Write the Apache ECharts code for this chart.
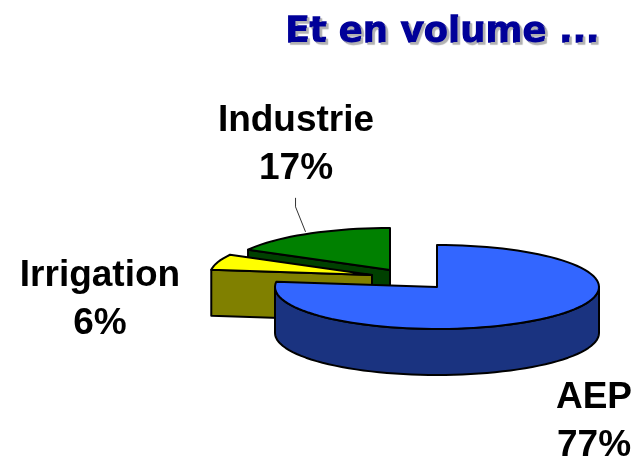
<!DOCTYPE html>
<html>
<head>
<meta charset="utf-8">
<style>
  html, body { margin: 0; padding: 0; background: #fff; }
  #chart { width: 638px; height: 460px; }
</style>
<script src="https://cdn.jsdelivr.net/npm/echarts@6/dist/echarts.min.js"></script>
</head>
<body>
<div id="chart"></div>
<script>
  // painted back to front, angles run backwards from 12 o'clock
  var categories = ['Industrie', 'Irrigation', 'AEP'];
  var shares = [17, 6, 77];

  var titleText = 'Et en volume ...';

  var pie = { rx: 162, ry: 42, depth: 46 };
  var sliceStyle = {
    Industrie: { cx: 390, cy: 270, top: '#008000', side: '#004000' },
    Irrigation: { cx: 372, cy: 275, top: '#ffff00', side: '#808000' },
    AEP: { cx: 437, cy: 287, top: '#3366ff', side: '#1a3380' }
  };
  var labelPos = {
    Industrie: { x: 296, y: 145 },
    Irrigation: { x: 100, y: 300 },
    AEP: { x: 594, y: 422 }
  };
  var total = shares.reduce(function (a, b) { return a + b; }, 0);

  function pt(s, deg, drop) {
    var r = deg * Math.PI / 180;
    return [s.cx + pie.rx * Math.sin(r), s.cy - pie.ry * Math.cos(r) + (drop || 0)];
  }

  function arc(s, from, to, drop) {
    var pts = [];
    var n = Math.max(2, Math.ceil(Math.abs(to - from) / 3));
    for (var i = 0; i <= n; i++) {
      pts.push(pt(s, from + (to - from) * i / n, drop));
    }
    return pts;
  }

  function poly(points, fill) {
    return {
      type: 'polygon',
      shape: { points: points },
      style: { fill: fill, stroke: '#000', lineWidth: 2, lineJoin: 'round' }
    };
  }

  function renderSlice(params, api) {
    var idx = params.dataIndex;
    var name = categories[idx];
    var s = sliceStyle[name];
    var before = 0;
    for (var i = 0; i < idx; i++) before += api.value(0, i);
    var end = 360 - before / total * 360;
    var start = end - api.value(0) / total * 360;
    var apex = [s.cx, s.cy];
    var apexLow = [s.cx, s.cy + pie.depth];
    var kids = [];

    // cut face on the start side, only when it looks towards the viewer
    if (Math.sin(start * Math.PI / 180) < 0) {
      kids.push(poly([apex, pt(s, start), pt(s, start, pie.depth), apexLow], s.side));
    }
    // round outer wall, front half only
    var a = Math.max(start, 90), b = Math.min(end, 270);
    if (b > a) {
      kids.push(poly(arc(s, a, b).concat(arc(s, b, a, pie.depth)), s.side));
    }
    kids.push(poly([apex].concat(arc(s, start, end)), s.top));

    // leader line only on Industrie
    if (name === 'Industrie') {
      var mid = pt(s, (start + end) / 2);
      kids.push({
        type: 'polyline',
        shape: { points: [[mid[0] - 2, mid[1] - 2], [mid[0] - 12, mid[1] - 27], [mid[0] - 12, mid[1] - 36]] },
        style: { fill: 'none', stroke: '#333', lineWidth: 1 }
      });
    }

    kids.push({
      type: 'text',
      z2: 10,
      style: {
        text: name + '\n' + api.value(0) + '%',
        x: labelPos[name].x,
        y: labelPos[name].y,
        textAlign: 'center',
        textVerticalAlign: 'middle',
        fill: '#000',
        fontFamily: 'Liberation Sans',
        fontWeight: 'bold',
        fontSize: 37,
        lineHeight: 48
      }
    });
    return { type: 'group', children: kids };
  }

  var chart = echarts.init(document.getElementById('chart'), null, { renderer: 'canvas' });
  chart.setOption({
    animation: false,
    backgroundColor: '#fff',
    title: {
      text: titleText,
      right: 32,
      top: 10,
      textStyle: {
        fontFamily: 'DejaVu Sans',
        fontWeight: 'bold',
        fontSize: 35.5,
        color: '#000099',
        textBorderColor: '#000099',
        textBorderWidth: 1.4,
        textShadowColor: '#b0b0b0',
        textShadowOffsetX: 2,
        textShadowOffsetY: 2,
        textShadowBlur: 1
      }
    },
    series: [{
      type: 'custom',
      coordinateSystem: 'none',
      renderItem: renderSlice,
      data: shares.map(function (v, i) { return { name: categories[i], value: [v] }; })
    }]
  });
</script>
</body>
</html>
